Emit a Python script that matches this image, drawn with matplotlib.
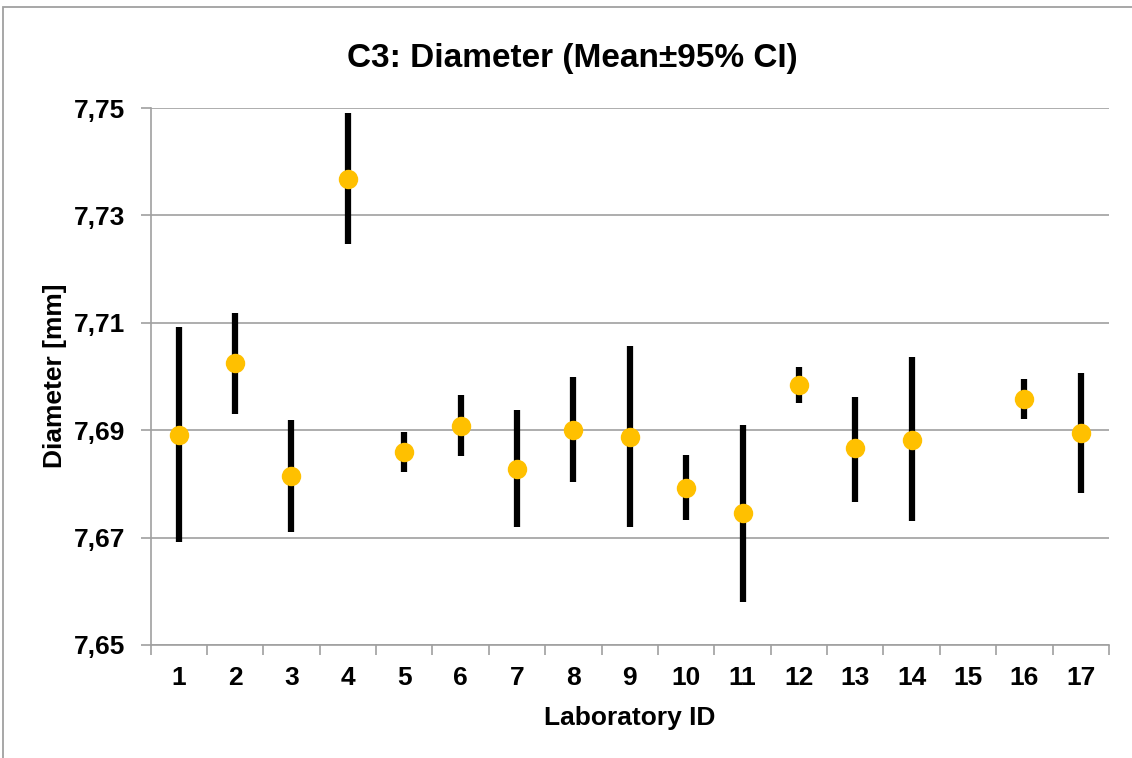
import matplotlib
matplotlib.use('Agg')
import matplotlib.pyplot as plt
from matplotlib.patches import Rectangle
from matplotlib.ticker import FuncFormatter

plt.rcParams['font.family'] = ['Liberation Sans', 'DejaVu Sans']
plt.rcParams['font.weight'] = 'bold'

labs = [str(i) for i in range(1, 18)]
# None = no result for that lab
means = [7.6891, 7.7025, 7.6815, 7.7368, 7.6859, 7.6908, 7.6828, 7.6900, 7.6887,
         7.6792, 7.6746, 7.6984, 7.6867, 7.6882, None, 7.6958, 7.6895]
ci_hi = [7.7092, 7.7118, 7.6919, 7.7491, 7.6897, 7.6966, 7.6938, 7.6999, 7.7057,
         7.6854, 7.6910, 7.7018, 7.6962, 7.7036, None, 7.6995, 7.7007]
ci_lo = [7.6692, 7.6930, 7.6710, 7.7247, 7.6822, 7.6852, 7.6720, 7.6804, 7.6720,
         7.6733, 7.6580, 7.6951, 7.6766, 7.6731, None, 7.6921, 7.6783]

fig = plt.figure(figsize=(11.32, 7.58), dpi=100)
W, H = 1132, 758
ax = fig.add_axes([150.5 / W, 1 - 645 / H, (1109 - 150.5) / W, (645 - 108) / H])

# outer chart frame (only top/left visible in the reference)
fig.patches.append(Rectangle((3 / W, -0.05), 1.1, 1 - 7 / H + 0.05, transform=fig.transFigure,
                             fill=False, edgecolor='#a0a0a0', linewidth=1.3))

xs = [i for i, m in enumerate(means) if m is not None]
for i in xs:
    ax.plot([i, i], [ci_lo[i], ci_hi[i]], color='black', linewidth=4.5,
            solid_capstyle='butt', zorder=3)
ax.plot(xs, [means[i] for i in xs], 'o', color='#FFC000', markersize=14,
        markeredgewidth=0, zorder=4)

ax.set_xlim(-0.5, 16.5)
ax.set_ylim(7.65, 7.75)
ax.set_yticks([7.65, 7.67, 7.69, 7.71, 7.73, 7.75])
ax.yaxis.set_major_formatter(FuncFormatter(lambda v, p: f'{v:.2f}'.replace('.', ',')))
ax.set_xticks(range(17))
ax.set_xticklabels(labs)
ax.set_xticks([i - 0.5 for i in range(18)], minor=True)
ax.tick_params(axis='x', which='major', length=0, pad=15, labelsize=19)
ax.tick_params(axis='x', which='minor', length=7, color='#a0a0a0', width=1.2)
ax.tick_params(axis='y', length=7, color='#a0a0a0', width=1.2, pad=11, labelsize=19)

ax.grid(axis='y', color='#a0a0a0', linewidth=1.2)
ax.set_axisbelow(True)
for s in ['top', 'right']:
    ax.spines[s].set_visible(False)
for s in ['left', 'bottom']:
    ax.spines[s].set_color('#a0a0a0')
    ax.spines[s].set_linewidth(1.2)

fig.text(630 / W, 1 - 718 / H, 'Laboratory ID', ha='center', va='center',
         fontsize=19, fontweight='bold')
fig.text(55 / W, 1 - 376 / H, 'Diameter [mm]', ha='center', va='center', rotation=90,
         fontsize=19, fontweight='bold')
fig.text(572 / W, 1 - 58 / H, 'C3: Diameter (Mean\u00b195% CI)',
         ha='center', va='center', fontsize=24, fontweight='bold')

fig.savefig('out.png', dpi=100)
